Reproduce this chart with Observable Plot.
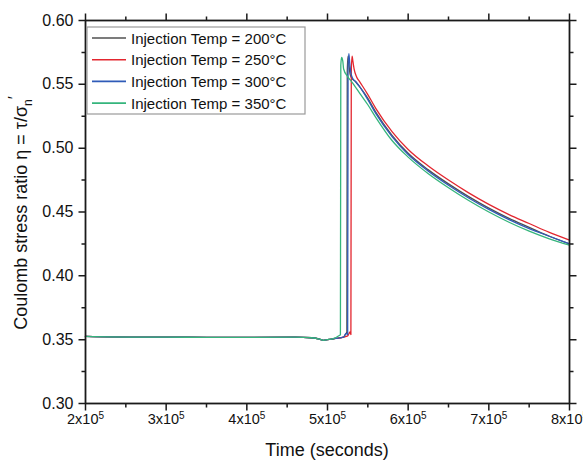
<!DOCTYPE html>
<html><head><meta charset="utf-8">
<script src="https://cdn.jsdelivr.net/npm/d3@7"></script>
<script src="https://cdn.jsdelivr.net/npm/@observablehq/plot@0.6"></script>
<style>body{margin:0;background:#fff;} #chart{width:583px;height:460px;}</style>
</head><body><div id="chart"></div>
<script>
// Series names and colours
const seriesNames = ["Injection Temp = 200°C","Injection Temp = 250°C","Injection Temp = 300°C","Injection Temp = 350°C"];
const seriesColors = ["#505050","#e3262f","#2f5bb8","#35b57c"];

// 200 °C (gray)
const t200 = [2e5,2.6e5,3e5,3.5e5,4e5,4.6e5,4.8e5,4.9e5,4.95e5,5.0e5,5.05e5,5.1e5,5.2e5,5.22e5,5.24e5,5.245e5,5.255e5,5.265e5,5.28e5,5.3e5,5.35e5,5.4e5,5.5e5,5.6e5,5.8e5,6.0e5,6.25e5,6.5e5,6.75e5,7.0e5,7.25e5,7.5e5,7.75e5,8.0e5];
const v200 = [0.3525,0.3520,0.3520,0.3518,0.3518,0.3520,0.3515,0.3505,0.3495,0.3500,0.3505,0.3510,0.3520,0.3540,0.3560,0.560,0.572,0.566,0.558,0.555,0.552,0.548,0.539,0.528,0.510,0.496,0.483,0.472,0.462,0.453,0.445,0.438,0.431,0.425];

// 250 °C (red)
const t250 = [2e5,2.6e5,3e5,3.5e5,4e5,4.6e5,4.8e5,4.9e5,4.95e5,5.0e5,5.05e5,5.1e5,5.2e5,5.25e5,5.28e5,5.29e5,5.295e5,5.305e5,5.315e5,5.33e5,5.36e5,5.4e5,5.5e5,5.6e5,5.8e5,6.0e5,6.25e5,6.5e5,6.75e5,7.0e5,7.25e5,7.5e5,7.75e5,8.0e5];
const v250 = [0.3525,0.3520,0.3520,0.3518,0.3518,0.3520,0.3515,0.3505,0.3495,0.3500,0.3505,0.3510,0.3520,0.3530,0.3560,0.3540,0.560,0.572,0.568,0.562,0.556,0.552,0.542,0.531,0.513,0.499,0.486,0.475,0.465,0.456,0.448,0.441,0.434,0.428];

// 300 °C (blue)
const t300 = [2e5,2.6e5,3e5,3.5e5,4e5,4.6e5,4.8e5,4.9e5,4.95e5,5.0e5,5.05e5,5.1e5,5.2e5,5.23e5,5.25e5,5.255e5,5.265e5,5.275e5,5.29e5,5.31e5,5.35e5,5.4e5,5.5e5,5.6e5,5.8e5,6.0e5,6.25e5,6.5e5,6.75e5,7.0e5,7.25e5,7.5e5,7.75e5,8.0e5];
const v300 = [0.3525,0.3520,0.3520,0.3518,0.3518,0.3520,0.3515,0.3505,0.3495,0.3500,0.3505,0.3510,0.3520,0.3550,0.3540,0.562,0.574,0.567,0.559,0.555,0.552,0.548,0.538,0.527,0.509,0.495,0.482,0.471,0.461,0.452,0.444,0.437,0.431,0.425];

// 350 °C (green)
const t350 = [2e5,2.6e5,3e5,3.5e5,4e5,4.6e5,4.8e5,4.9e5,4.95e5,5.0e5,5.05e5,5.1e5,5.14e5,5.16e5,5.165e5,5.175e5,5.19e5,5.2e5,5.25e5,5.3e5,5.4e5,5.5e5,5.6e5,5.8e5,6.0e5,6.25e5,6.5e5,6.75e5,7.0e5,7.25e5,7.5e5,7.75e5,8.0e5];
const v350 = [0.3525,0.3520,0.3520,0.3518,0.3518,0.3520,0.3515,0.3505,0.3495,0.3500,0.3505,0.3515,0.3530,0.3540,0.565,0.571,0.568,0.562,0.556,0.552,0.543,0.534,0.524,0.506,0.493,0.480,0.469,0.459,0.450,0.442,0.435,0.429,0.424];

// Tick values
const xTicks = [2e5,3e5,4e5,5e5,6e5,7e5,8e5];
const xMinor = [2.5e5,3.5e5,4.5e5,5.5e5,6.5e5,7.5e5];
const yTicks = [0.30,0.35,0.40,0.45,0.50,0.55,0.60];
const yMinor = [0.325,0.375,0.425,0.475,0.525,0.575];

const seriesT = [t200,t250,t300,t350];
const seriesV = [v200,v250,v300,v350];
const rows = [];
seriesNames.forEach((name,i)=>{
  seriesT[i].forEach((t,j)=>rows.push({t, v: seriesV[i][j], series: name}));
});

const W = 583, H = 460, mL = 85, mR = 14, mT = 20, mB = 57;
const xDom = [2e5, 8e5], yDom = [0.30, 0.60];
const kx = (W - mL - mR) / (xDom[1] - xDom[0]);
const ky = (H - mT - mB) / (yDom[1] - yDom[0]);

// Tick "combs": one continuous path per side running along the axis and out to each tick
const comb = [];
const xAll = [...xTicks.map(v=>[v,7]), ...xMinor.map(v=>[v,4])].sort((a,b)=>a[0]-b[0]);
const yAll = [...yTicks.map(v=>[v,7]), ...yMinor.map(v=>[v,4])].sort((a,b)=>a[0]-b[0]);
xAll.forEach(([v,len])=>{
  comb.push({side:"b", x:v, y:yDom[0]}, {side:"b", x:v, y:yDom[0]-len/ky}, {side:"b", x:v, y:yDom[0]});
  comb.push({side:"t", x:v, y:yDom[1]}, {side:"t", x:v, y:yDom[1]+len/ky}, {side:"t", x:v, y:yDom[1]});
});
yAll.forEach(([v,len])=>{
  comb.push({side:"l", x:xDom[0], y:v}, {side:"l", x:xDom[0]-len/kx, y:v}, {side:"l", x:xDom[0], y:v});
  comb.push({side:"r", x:xDom[1], y:v}, {side:"r", x:xDom[1]+len/kx, y:v}, {side:"r", x:xDom[1], y:v});
});

const plot = Plot.plot({
  width:W, height:H,
  marginLeft:mL, marginRight:mR, marginTop:mT, marginBottom:mB,
  style:{fontFamily:"'Liberation Sans', Arial, sans-serif", fontSize:"16px", color:"#111", background:"#fff", overflow:"visible"},
  x:{domain:xDom, label:null},
  y:{domain:yDom, label:null},
  color:{domain:seriesNames, range:seriesColors},
  marks:[
    Plot.line(rows,{x:"t", y:"v", z:"series", stroke:"series", curve:"monotone-x", strokeWidth:1.3}),
    Plot.frame({stroke:"#222", strokeWidth:1.4}),
    Plot.line(comb,{x:"x", y:"y", z:"side", stroke:"#1a1a1a", strokeWidth:1.5, curve:"linear", strokeLinejoin:"miter", strokeLinecap:"butt"}),
    Plot.axisX({anchor:"bottom", ticks:xTicks, tickSize:0, tickPadding:10, tickFormat:d=>String(d/1e5), fontSize:14.5, label:null}),
    Plot.axisY({anchor:"left", ticks:yTicks, tickSize:0, tickPadding:12, tickFormat:d3.format(".2f"), fontSize:16, label:null})
  ]
});
document.getElementById("chart").appendChild(plot);
const svg = d3.select(plot);

// x tick labels with superscript exponent
svg.selectAll('g[aria-label="x-axis tick label"] text').each(function(){
  const el = d3.select(this);
  const n = el.text();
  if (!n) return;
  el.text("");
  el.append("tspan").text(n + "x10");
  el.append("tspan").attr("dy","-0.45em").attr("font-size","10px").text("5");
});

// axis titles
svg.append("text")
  .attr("x", 327).attr("y", 456)
  .attr("text-anchor","middle")
  .attr("font-size","18px").attr("fill","#111")
  .text("Time (seconds)");

const yl = svg.append("text")
  .attr("transform","translate(27,213) rotate(-90)")
  .attr("text-anchor","middle")
  .attr("font-size","18px").attr("fill","#111");
yl.append("tspan").text("Coulomb stress ratio η = τ/σ");
yl.append("tspan").attr("dy","5").attr("font-size","12px").text("n");
yl.append("tspan").attr("dy","-12").attr("font-size","16px").text("′");

// legend
const lg = svg.append("g");
lg.append("rect").attr("x",87).attr("y",27).attr("width",218).attr("height",87)
  .attr("fill","#fff").attr("stroke","#9a9a9a").attr("stroke-width",1.2);
seriesNames.forEach((name,i)=>{
  const y = 38 + i*21.7;
  lg.append("line").attr("x1",92).attr("x2",126).attr("y1",y).attr("y2",y)
    .attr("stroke",seriesColors[i]).attr("stroke-width",1.6);
  lg.append("text").attr("x",131).attr("y",y+5.5).attr("text-anchor","start")
    .attr("font-size","15px").attr("fill","#111").text(name);
});
</script>
</body></html>
